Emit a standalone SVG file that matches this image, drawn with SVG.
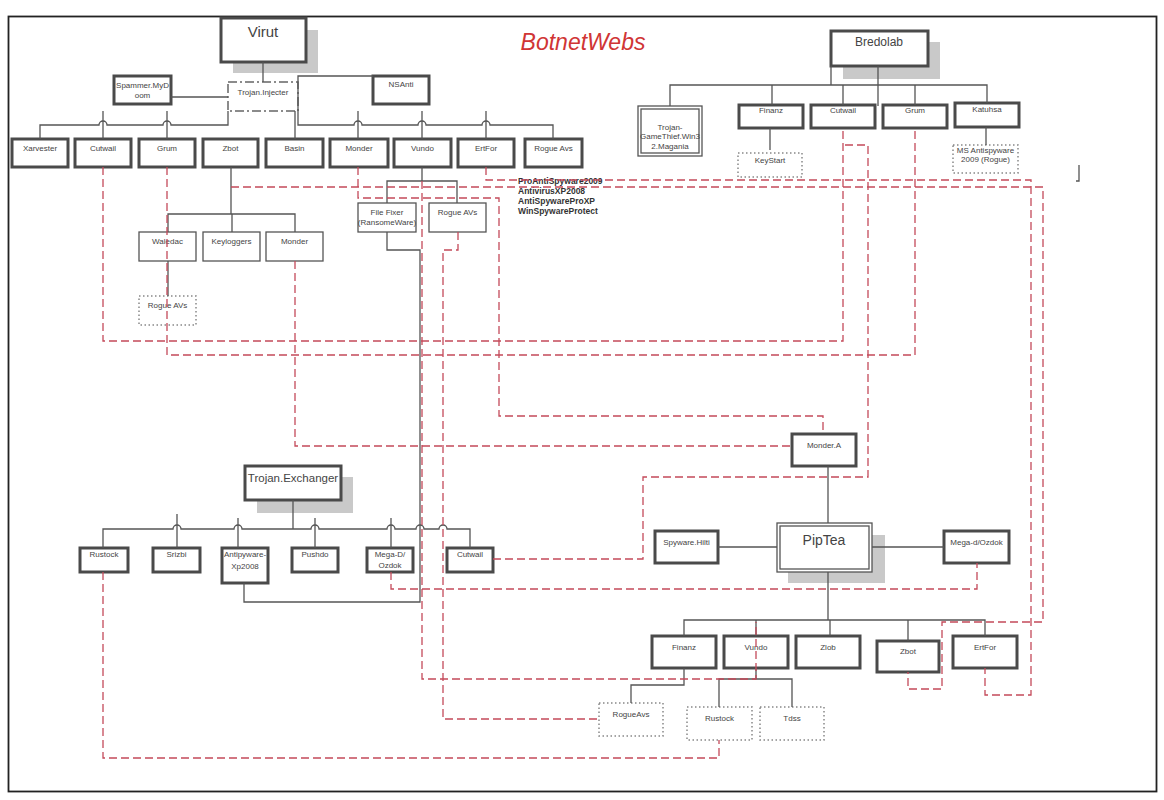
<svg xmlns="http://www.w3.org/2000/svg" width="1164" height="800" viewBox="0 0 1164 800">
<style>
.b3{fill:#fff;stroke:#4a4a4a;stroke-width:3}
.b1{fill:#fff;stroke:#555;stroke-width:1.3}
.bw{fill:#fff;stroke:#555;stroke-width:1.3}
.bd{fill:#fff;stroke:#888;stroke-width:1.5;stroke-dasharray:1.5 2.5}
.bdd{fill:#fff;stroke:#666;stroke-width:1.5;stroke-dasharray:9 3 2 3}
.sh{fill:#c9c9c9}
.t{font-family:"Liberation Sans",Arial,sans-serif;font-size:8px;fill:#444;text-anchor:middle}
.tb{font-family:"Liberation Sans",Arial,sans-serif;font-size:8.5px;font-weight:bold;fill:#333}
.s{fill:none;stroke:#555;stroke-width:1.3}
.r{fill:none;stroke:#c44a5a;stroke-width:1.3;stroke-dasharray:8 4}
</style>
<rect x="0" y="0" width="1164" height="800" fill="#fff"/>
<rect x="8.5" y="16.5" width="1148" height="775" fill="none" stroke="#222" stroke-width="1.8"/>
<text x="583" y="50" font-family="Liberation Sans, Arial, sans-serif" font-size="23" font-style="italic" fill="#d03535" text-anchor="middle">BotnetWebs</text>

<g id="nodes">
<g id="virut"><rect class="sh" x="233" y="30" width="85" height="43"/><rect class="b3" x="221" y="18" width="85" height="44"/><text class="t" x="263" y="37" style="font-size:15px">Virut</text></g>
<g id="trojan-injecter"><rect class="bdd" x="228" y="82" width="70" height="29"/><text class="t" x="263" y="95">Trojan.Injecter</text></g>
<g id="spammer"><rect class="b3" x="114" y="76" width="57" height="28"/><text class="t" x="142.5" y="88">Spammer.MyD</text><text class="t" x="142.5" y="98">oom</text></g>
<g id="nsanti"><rect class="b3" x="373" y="76" width="56" height="28"/><text class="t" x="401" y="87">NSAnti</text></g>
<g id="xarvester"><rect class="b3" x="12" y="139" width="56" height="28"/><text class="t" x="40" y="151">Xarvester</text></g>
<g id="cutwail1"><rect class="b3" x="75" y="139" width="56" height="28"/><text class="t" x="103" y="151">Cutwail</text></g>
<g id="grum1"><rect class="b3" x="139" y="139" width="56" height="28"/><text class="t" x="167" y="151">Grum</text></g>
<g id="zbot1"><rect class="b3" x="203" y="139" width="55" height="28"/><text class="t" x="230.5" y="151">Zbot</text></g>
<g id="basin"><rect class="b3" x="266" y="139" width="57" height="28"/><text class="t" x="294.5" y="151">Basin</text></g>
<g id="monder1"><rect class="b3" x="330" y="139" width="58" height="28"/><text class="t" x="359" y="151">Monder</text></g>
<g id="vundo1"><rect class="b3" x="394" y="139" width="57" height="28"/><text class="t" x="422.5" y="151">Vundo</text></g>
<g id="ertfor1"><rect class="b3" x="458" y="139" width="56" height="28"/><text class="t" x="486" y="151">ErtFor</text></g>
<g id="rogueavs1"><rect class="b3" x="525" y="139" width="57" height="28"/><text class="t" x="553.5" y="151">Rogue Avs</text></g>

<g id="bredolab"><rect class="sh" x="843" y="42" width="97" height="37"/><rect class="b3" x="831" y="31" width="97" height="35"/><text class="t" x="879" y="46" style="font-size:12px">Bredolab</text></g>
<g id="gamethief"><rect class="bw" x="638" y="106" width="64" height="50"/><rect class="bw" x="641" y="109" width="58" height="44"/><text class="t" x="670" y="130">Trojan-</text><text class="t" x="670" y="139">GameThief.Win3</text><text class="t" x="670" y="149">2.Magania</text></g>
<g id="finanz1"><rect class="b3" x="739" y="105" width="64" height="23"/><text class="t" x="771" y="113">Finanz</text></g>
<g id="cutwail2"><rect class="b3" x="811" y="105" width="64" height="23"/><text class="t" x="843" y="113">Cutwail</text></g>
<g id="grum2"><rect class="b3" x="883" y="105" width="64" height="23"/><text class="t" x="915" y="113">Grum</text></g>
<g id="katuhsa"><rect class="b3" x="955" y="103" width="64" height="24"/><text class="t" x="987" y="112">Katuhsa</text></g>
<g id="keystart"><rect class="bd" x="738" y="153" width="64" height="24"/><text class="t" x="770" y="163">KeyStart</text></g>
<g id="msantispyware"><rect class="bd" x="953" y="145" width="65" height="28"/><text class="t" x="985.5" y="153">MS Antispyware</text><text class="t" x="985.5" y="162">2009 (Rogue)</text></g>

<g id="waledac"><rect class="b1" x="139" y="232" width="57" height="29"/><text class="t" x="167.5" y="244">Waledac</text></g>
<g id="keyloggers"><rect class="b1" x="203" y="232" width="57" height="29"/><text class="t" x="231.5" y="244">Keyloggers</text></g>
<g id="monder2"><rect class="b1" x="266" y="232" width="57" height="29"/><text class="t" x="294.5" y="244">Monder</text></g>
<g id="rogueavs2"><rect class="bd" x="139" y="296" width="57" height="29"/><text class="t" x="167.5" y="308">Rogue AVs</text></g>
<g id="filefixer"><rect class="b1" x="358" y="203" width="58" height="29"/><text class="t" x="387" y="215">File Fixer</text><text class="t" x="387" y="225">(RansomeWare)</text></g>
<g id="rogueavs3"><rect class="b1" x="429" y="203" width="57" height="29"/><text class="t" x="457.5" y="215">Rogue AVs</text></g>
<g id="rogue-list"><text class="tb" x="518" y="184">ProAntiSpyware2009</text><text class="tb" x="518" y="194">AntivirusXP2008</text><text class="tb" x="518" y="204">AntiSpywareProXP</text><text class="tb" x="518" y="214">WinSpywareProtect</text></g>

<g id="mondera"><rect class="b3" x="792" y="434" width="64" height="32"/><text class="t" x="824" y="448">Monder.A</text></g>
<g id="exchanger"><rect class="sh" x="257" y="477" width="96" height="36"/><rect class="b3" x="245" y="466" width="96" height="34"/><text class="t" x="293" y="482" style="font-size:11.5px">Trojan.Exchanger</text></g>
<g id="rustock1"><rect class="b3" x="80" y="548" width="48" height="24"/><text class="t" x="104" y="557">Rustock</text></g>
<g id="srizbi"><rect class="b3" x="153" y="548" width="47" height="24"/><text class="t" x="176.5" y="557">Srizbi</text></g>
<g id="antispyware"><rect class="b3" x="222" y="548" width="46" height="35"/><text class="t" x="245" y="557">Antipyware-</text><text class="t" x="245" y="569">Xp2008</text></g>
<g id="pushdo"><rect class="b3" x="292" y="548" width="46" height="24"/><text class="t" x="315" y="557">Pushdo</text></g>
<g id="megad1"><rect class="b3" x="367" y="548" width="46" height="24"/><text class="t" x="390" y="557">Mega-D/</text><text class="t" x="390" y="568">Ozdok</text></g>
<g id="cutwail3"><rect class="b3" x="447" y="548" width="46" height="24"/><text class="t" x="470" y="557">Cutwail</text></g>

<g id="spywarehilti"><rect class="b3" x="655" y="531" width="63" height="32"/><text class="t" x="686.5" y="545">Spyware.Hilti</text></g>
<g id="piptea"><rect class="sh" x="788" y="535" width="97" height="48"/><rect class="bw" x="777" y="523" width="95" height="49"/><rect class="bw" x="780" y="526" width="89" height="43"/><text class="t" x="824" y="545" style="font-size:14px">PipTea</text></g>
<g id="megad2"><rect class="b3" x="944" y="531" width="65" height="32"/><text class="t" x="976.5" y="545">Mega-d/Ozdok</text></g>
<g id="finanz2"><rect class="b3" x="652" y="636" width="64" height="32"/><text class="t" x="684" y="650">Finanz</text></g>
<g id="vundo2"><rect class="b3" x="724" y="636" width="64" height="32"/><text class="t" x="756" y="650">Vundo</text></g>
<g id="zlob"><rect class="b3" x="796" y="636" width="64" height="32"/><text class="t" x="828" y="650">Zlob</text></g>
<g id="zbot2"><rect class="b3" x="877" y="641" width="62" height="31"/><text class="t" x="908" y="654">Zbot</text></g>
<g id="ertfor2"><rect class="b3" x="953" y="636" width="64" height="32"/><text class="t" x="985" y="650">ErtFor</text></g>
<g id="rogueavs4"><rect class="bd" x="599" y="703" width="64" height="33"/><text class="t" x="631" y="717">RogueAvs</text></g>
<g id="rustock2"><rect class="bd" x="687" y="707" width="65" height="33"/><text class="t" x="719.5" y="721">Rustock</text></g>
<g id="tdss"><rect class="bd" x="760" y="707" width="64" height="33"/><text class="t" x="792" y="721">Tdss</text></g>
</g>

<g id="connectors">
<path class="s" d="M263,62 V82"/>
<path class="s" d="M171,97 H228"/>
<path class="s" d="M40,139 V125 H99 a4,4 0 0 1 8,0 H163 a4,4 0 0 1 8,0 H228 V111"/>
<path class="s" d="M103,111 V139 M167,111 V139 M295,111 V139 M358,111 V139 M422,111 V139 M486,111 V139"/>
<path class="s" d="M373,76 H298 V125 H354 a4,4 0 0 1 8,0 H418 a4,4 0 0 1 8,0 H482 a4,4 0 0 1 8,0 H553 V139"/>
<path class="s" d="M831,66 V85 M878,66 V106 M670,106 V85 H987 V103 M772,85 V105 M843,85 V105 M915,85 V105"/>
<path class="s" d="M770,128 V150 M986,127 V145"/>
<path class="s" d="M231,167 V214 M168,232 V214 H295 V232 M232,214 V232 M168,261 V296"/>
<path class="s" d="M422,167 V181 M387,203 V181 H457 V203"/>
<path class="s" d="M387,232 V250 H420 V602 H244 V583"/>
<path class="s" d="M293,500 V529"/>
<path class="s" d="M103,548 V529 H173 a4,4 0 0 1 8,0 H234 a4,4 0 0 1 8,0 H311 a4,4 0 0 1 8,0 H387 a4,4 0 0 1 8,0 H416 a4,4 0 0 1 8,0 H439 a4,4 0 0 1 8,0 H470 V548"/>
<path class="s" d="M177,514 V548 M238,518 V548 M315,518 V548 M391,518 V548"/>
<path class="s" d="M828,523 V466"/>
<path class="s" d="M718,547 H777 M872,547 H944"/>
<path class="s" d="M828,572 V620 M684,636 V620 H985 V636 M756,620 V636 M830,620 V636 M908,620 V641"/>
<path class="s" d="M684,668 V685 H631 V703"/>
<path class="s" d="M756,668 V679 M719,707 V679 H792 V707"/>
<path class="s" d="M1079,165 V181 H1076"/>
<path class="r" d="M103,167 V341 H843 V128"/>
<path class="r" d="M167,167 V355 H915 V128"/>
<path class="r" d="M358,167 V198 H499 V416 H823 V434"/>
<path class="r" d="M295,261 V446 H792"/>
<path class="r" d="M486,167 V180 H1031 V695 H985 V668"/>
<path class="r" d="M231,187 H1043 V622 H942 V689 H908 V672"/>
<path class="r" d="M422,181 V679 H756 V622"/>
<path class="r" d="M458,232 V250 H443 V719 H599"/>
<path class="r" d="M391,572 V589 H977 V563"/>
<path class="r" d="M103,572 V758 H719 V740"/>
<path class="r" d="M493,559 H643 V477 H868 V145 H843"/>
</g>
</svg>
